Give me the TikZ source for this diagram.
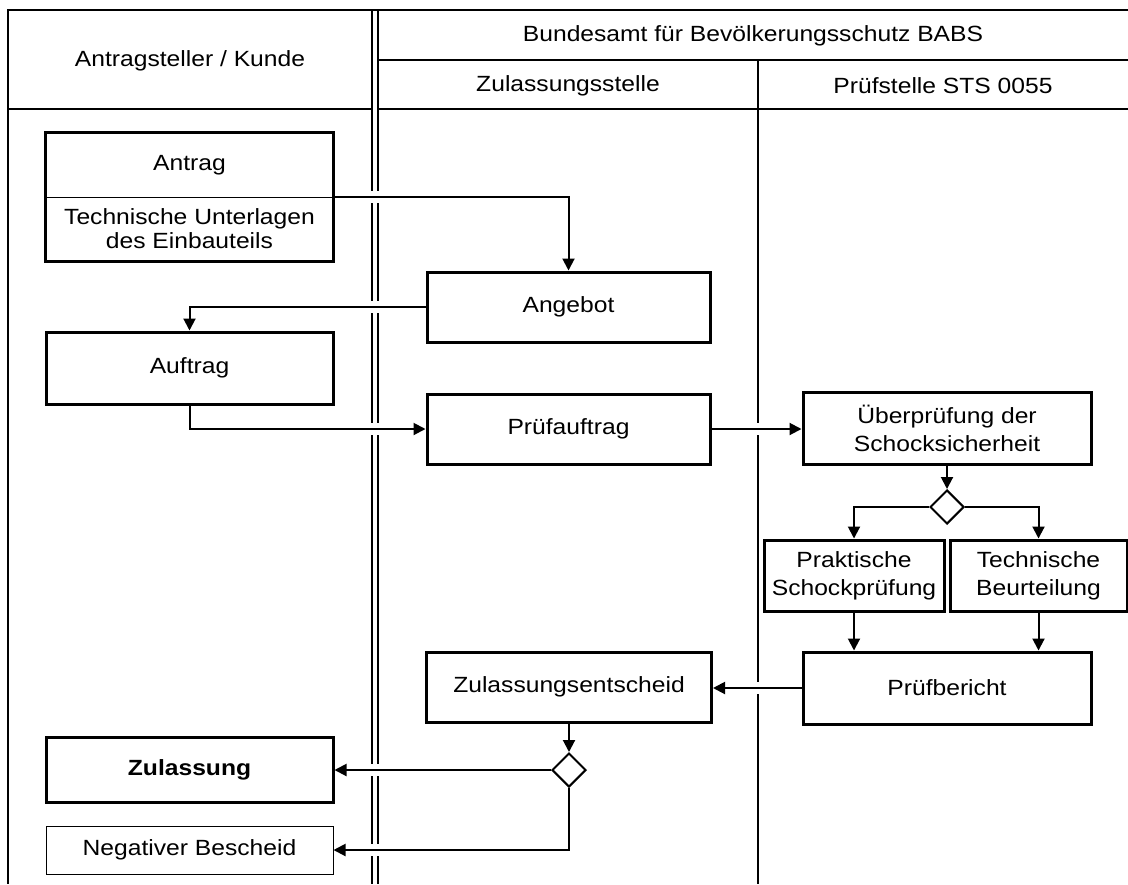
\documentclass[tikz,border=0pt]{standalone}
\usepackage{fontspec}
\setmainfont{Liberation Sans}[FakeStretch=1.12]
\usepackage{tikz}
\usetikzlibrary{arrows.meta,positioning,shapes.geometric,fit,calc}
\pgfdeclarelayer{lanes}
\pgfdeclarelayer{conn}
\pgfsetlayers{lanes,conn,main}
\tikzset{
  blk/.style={draw,line width=1.5pt,fill=white,inner sep=2pt,
              minimum width=143.5pt,minimum height=35pt,align=center,
              font=\fontsize{11}{14}\selectfont},
  blkthin/.style={blk,line width=0.5pt,minimum height=24pt},
  gate/.style={diamond,draw,line width=1pt,fill=white,inner sep=0pt,
               minimum size=17pt},
  arr/.style={-{Triangle[length=6pt,width=6pt]},line width=1pt,
              preaction={draw=white,line width=6pt,-}},
  lane/.style={line width=0.75pt},
  hdr/.style={font=\fontsize{11}{14}\selectfont},
}
\begin{document}
\begin{tikzpicture}[x=0.5pt,y=-0.5pt]
\useasboundingbox (0,0) rectangle (1128,884);

% swimlanes
\begin{pgfonlayer}{lanes}
\draw[lane] (1128,10) -- (8,10) -- (8,884);
\draw[lane] (8,109) -- (372,109);
\draw[lane] (378,109) -- (1128,109);
\draw[lane] (378,60) -- (1128,60);
\foreach \x in {372,378}
  \draw[lane] (\x,10) -- (\x,884);
\draw[lane] (758,60) -- (758,884);
\end{pgfonlayer}
\node[hdr] (kunde) at (190,61) {Antragsteller / Kunde};
\node[hdr] (babs) at (753,36) {Bundesamt für Bevölkerungsschutz BABS};
\node[hdr] (zstelle) at (568,86) {Zulassungsstelle};
\node[hdr] (pstelle) at (943,86) {Prüfstelle STS 0055};

% Antragsteller
\node[hdr,minimum width=143.5pt,minimum height=32pt] (antrag) at (189.5,165) {\raisebox{-2pt}{Antrag}};
\node[hdr,minimum width=143.5pt,minimum height=32pt,align=center,
      font=\fontsize{11}{12}\selectfont] (unterlagen) at (189.5,229)
      {Technische Unterlagen\\des Einbauteils};
\draw[line width=0.5pt] (antrag.south west) -- (antrag.south east);
\node[draw,line width=1.5pt,inner sep=0pt,fit=(antrag)(unterlagen)] (antragbox) {};
\node[blk,minimum height=36pt] (auftrag) at (189.5,368) {Auftrag};
\node[blk,minimum height=32.5pt] (zulassung) at (189.5,770) {\bfseries Zulassung};
\node[blkthin] (negativ) at (189.5,850) {Negativer Bescheid};

% Zulassungsstelle
\node[blk,minimum width=141.5pt] (angebot) at (568.5,307) {Angebot};
\node[blk,minimum width=141.5pt] (pruefauftrag) at (568.5,429) {Prüfauftrag};
\node[blk,minimum width=142.5pt] (entscheid) at (569,687) {Zulassungsentscheid};
\node[gate] (gate2) at (569,770) {};

% Pruefstelle
\node[blk,minimum width=144pt,minimum height=36pt] (pruefung) at (947,428)
  {Überprüfung der\\Schocksicherheit};
\node[gate] (gate1) at (947,507) {};
\node[blk,minimum width=90pt,minimum height=35.5pt] (praktisch) at (854,575.5)
  {Praktische\\Schockprüfung};
\node[blk,minimum width=88.5pt,minimum height=35.5pt] (technisch) at (1038.5,575.5)
  {Technische\\Beurteilung};
\node[blk,minimum width=144pt,minimum height=36pt] (bericht) at (947,688) {Prüfbericht};

% connectors
\begin{pgfonlayer}{conn}
\draw[arr] (antragbox.east |- antrag.south) -| (angebot.north);
\draw[arr] (angebot.west) -| (auftrag.north);
\draw[arr] (auftrag.south) |- (pruefauftrag.west);
\draw[arr] (pruefauftrag.east) -- (pruefauftrag.east -| pruefung.west);
\draw[arr] (pruefung.south) -- (gate1.north);
\draw[arr] (gate1.west) -| (praktisch.north);
\draw[arr] (gate1.east) -| (technisch.north);
\draw[arr] (praktisch.south) -- (praktisch.south |- bericht.north);
\draw[arr] (technisch.south) -- (technisch.south |- bericht.north);
\draw[arr] (bericht.west) -- (bericht.west -| entscheid.east);
\draw[arr] (entscheid.south) -- (gate2.north);
\draw[arr] (gate2.west) -- (gate2.west -| zulassung.east);
\draw[arr] (gate2.south) |- (negativ.east);
\end{pgfonlayer}
\end{tikzpicture}
\end{document}
